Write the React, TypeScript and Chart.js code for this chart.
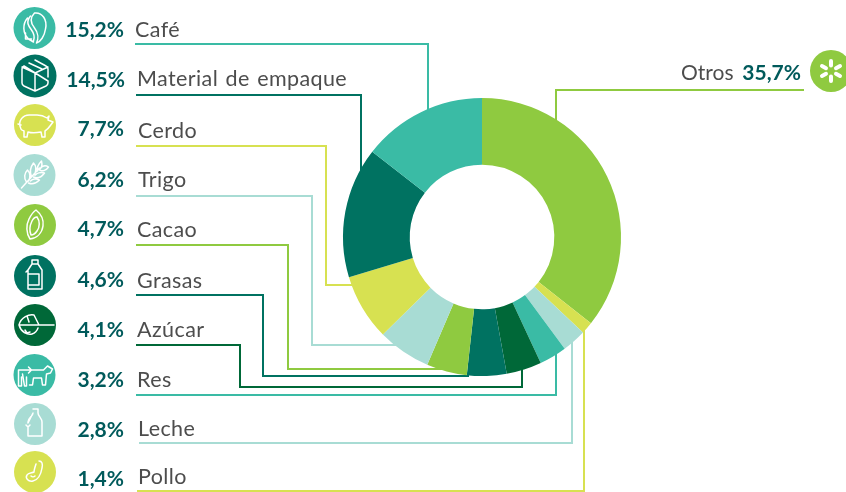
import React, { useEffect, useRef } from "react";
import { Chart, registerables } from "chart.js";

Chart.register(...registerables);

const categories = ["Otros", "Pollo", "Leche", "Res", "Azúcar", "Grasas", "Cacao", "Trigo", "Cerdo", "Material de empaque", "Café"];
const shareLabels = ["35,7%", "1,4%", "2,8%", "3,2%", "4,1%", "4,6%", "4,7%", "6,2%", "7,7%", "14,5%", "15,2%"];
// Slice sizes as drawn in the picture: the Material and Café arcs are the other way round from their printed shares.
const slices = [35.7, 1.4, 2.8, 3.2, 4.1, 4.6, 4.7, 6.2, 7.7, 15.2, 14.5];
const colors = ["#8FCA40", "#D7E151", "#A8DCD4", "#3ABBA5", "#006838", "#007261", "#8FCA40", "#A8DCD4", "#D7E151", "#007261", "#3ABBA5"];

const FONT = "Lato";
const PCT = "#005A5B";
const TXT = "#4D4D4D";

// Layout for the row of each category, index-aligned with categories.
const rows = [
  { icon: [831, 71, 21], leader: [[804, 90], [556, 90], [556, 125]] },
  { icon: [35, 472, 21], pctY: 486, pctX: 124, labX: 138, labY: 484, leader: [[137, 491], [584, 491], [584, 325]] },
  { icon: [35, 424, 21], pctY: 437, pctX: 124, labX: 138, labY: 436, leader: [[139, 443], [572, 443], [572, 340]] },
  { icon: [34.5, 375, 21], pctY: 387, pctX: 124, labX: 137, labY: 387, leader: [[136, 395], [556, 395], [556, 350]] },
  { icon: [35, 325, 21], pctY: 337, pctX: 124, labX: 137, labY: 337, leader: [[136, 345], [240, 345], [240, 387], [522, 387], [522, 365]] },
  { icon: [35, 276, 21], pctY: 287, pctX: 124, labX: 137, labY: 288, leader: [[136, 295], [263, 295], [263, 376], [469, 376]] },
  { icon: [35, 225, 21], pctY: 236, pctX: 124, labX: 137, labY: 237, leader: [[136, 245], [288, 245], [288, 369], [459, 369]] },
  { icon: [34.5, 175, 21], pctY: 187, pctX: 124, labX: 138, labY: 187, leader: [[136, 196], [312, 196], [312, 345], [400, 345]] },
  { icon: [35, 125, 21], pctY: 136, pctX: 124, labX: 138, labY: 138, leader: [[136, 146], [326, 146], [326, 285], [360, 285]] },
  { icon: [35, 76, 21.5], pctY: 87, pctX: 125, labX: 137, labY: 86, leader: [[136, 95], [361, 95], [361, 175]] },
  { icon: [34.5, 28, 21], pctY: 37, pctX: 124, labX: 135, labY: 37, leader: [[135, 44], [428, 44], [428, 115]] },
];

// White line glyphs, drawn around the centre of each icon disc.
const glyphs: string[] = [
  "M0,-10 V-5.5 M0,5.5 V10 M-9,-5 L-5,-2.8 M5,2.8 L9,5 M-9,5 L-5,2.8 M5,-2.8 L9,-5",
  "M4,-11 C7,-11 8,-8 7,-4 C6,2 3,8 -2,9 C-7,10 -10,6 -8,3 C-7,1 -3,1 -1,0 C-1,-2 0,-5 1,-8 M-4,4 C-3,5 -1,5 0,4",
  "M-2,-15 H3 V-11 C3,-8 7,-6 7,-2 V12 H-7 V3 M-7,-1 V-2 C-7,-6 -2,-8 -2,-11 Z M-7,3 L-9,1 M-7,3 L-5,1",
  "M-16,-5 H-3 M-3,-5 L-6,-8 M-3,-5 L-6,-2 M-16,-5 V11 H-13 V2 M-12,-1 L-10,11 H-8 L-8,2 M-3,-5 H9 L13,-9 L18,-6 L16,-2 L12,-1 L11,10 H8 L7,3 H-1 L-2,10 H-5",
  "M-16,0 C-14,-8 -6,-11 -1,-10 L4,0 Z M-16,0 C-14,7 -8,10 -3,9 M3,3 C2,6 0,8 -3,9 M4,0 H19 M-8,-9 L-6,-3 M-10,5 L-8,8 L-5,7",
  "M-3,-16 H3 V-12 L7,-6 V13 H-7 V-6 L-3,-12 Z M-7,-2 H4 V9 H-7 M-3,-12 H3 M-7,-6 L-9,-4",
  "M1,-15 C6,-11 9,-6 8,1 C7,8 2,13 -5,14 C-9,8 -9,0 -6,-6 C-4,-10 -2,-13 1,-15 Z M2,-8 C5,-4 5,2 2,6 C0,9 -3,10 -4,10 C-6,5 -5,0 -3,-4 C-2,-6 0,-8 2,-8",
  "M-13,13 L5,-7 M-8,7 C-11,3 -10,-2 -7,-5 C-4,-2 -4,3 -6,6 M-3,2 C-5,-3 -4,-8 -1,-12 C2,-9 2,-5 0,0 M3,-4 C2,-8 4,-11 7,-14 C8,-10 7,-7 5,-5 M-6,8 C-2,10 2,8 5,5 C2,3 -2,4 -4,6 M-1,2 C3,4 7,2 10,-2 C6,-3 2,-2 1,0 M5,-5 C8,-3 12,-5 14,-8 C11,-10 8,-9 6,-7",
  "M-14,4 C-18,-4 -12,-11 -4,-10 H2 C6,-10 9,-9 12,-7 L14,-9 L13,-5 L18,-3 L15,1 C13,4 11,5 10,6 V12 H7 L6,7 C1,8 -4,8 -7,7 L-8,12 H-11 L-11,6 C-13,5 -14,5 -14,4 Z M-4,-10 H-2 M-17,-1 L-14,0",
  "M0,-16 L11,-10 Q13,-9 13,-7 V1 M13,5 V7 Q13,9 11,10 L0,15 L-11,10 Q-13,9 -13,7 V-7 Q-13,-9 -11,-10 Z M-13,-9 L0,-3 L13,-9 M0,-3 V15 M-6,-13 L7,-7",
  "M0,-15 C8,-16 13,-8 11,1 C10,8 6,14 2,15 M0,-15 C-5,-10 -4,-5 0,0 C4,5 4,11 2,15 M-4,-12 C-9,-6 -6,-2 -3,2 C0,6 0,10 -1,13 M-7,-10 C-12,-4 -12,5 -6,11 L-1,14 M-9,5 L-9,11 L-3,11",
];

function drawLeaders(ctx: CanvasRenderingContext2D) {
  ctx.save();
  ctx.lineWidth = 2;
  ctx.lineJoin = "miter";
  rows.forEach((r, i) => {
    ctx.strokeStyle = colors[i];
    ctx.beginPath();
    r.leader.forEach(([x, y], k) => (k === 0 ? ctx.moveTo(x, y) : ctx.lineTo(x, y)));
    ctx.stroke();
  });
  ctx.restore();
}

function drawRows(ctx: CanvasRenderingContext2D) {
  ctx.save();
  ctx.textBaseline = "alphabetic";
  rows.forEach((r, i) => {
    const [cx, cy, rad] = r.icon;
    ctx.fillStyle = colors[i];
    ctx.beginPath();
    ctx.arc(cx, cy, rad, 0, Math.PI * 2);
    ctx.fill();
    ctx.save();
    ctx.translate(cx, cy);
    ctx.strokeStyle = "#FFFFFF";
    ctx.lineWidth = i === 0 ? 4 : 1.5;
    ctx.lineCap = "round";
    ctx.lineJoin = "round";
    ctx.stroke(new Path2D(glyphs[i]));
    ctx.restore();
    if (i === 0) return;
    ctx.textAlign = "right";
    ctx.font = `bold 21px ${FONT}`;
    ctx.fillStyle = PCT;
    ctx.fillText(shareLabels[i], r.pctX!, r.pctY!);
    ctx.textAlign = "left";
    ctx.font = `21.5px ${FONT}`;
    ctx.fillStyle = TXT;
    (ctx as any).letterSpacing = "0.4px";
    (ctx as any).wordSpacing = "1.5px";
    ctx.fillText(categories[i], r.labX!, r.labY!);
    (ctx as any).letterSpacing = "0px";
    (ctx as any).wordSpacing = "0px";
  });
  // Otros sits on the right, with the label before the share.
  ctx.textAlign = "left";
  ctx.font = `21px ${FONT}`;
  ctx.fillStyle = TXT;
  ctx.fillText(categories[0], 681, 80);
  ctx.textAlign = "right";
  ctx.font = `bold 21px ${FONT}`;
  ctx.fillStyle = PCT;
  ctx.fillText(shareLabels[0], 801, 80);
  ctx.restore();
}

export default function App() {
  const ref = useRef<HTMLCanvasElement>(null);
  useEffect(() => {
    document.body.style.margin = "0";
    const chart = new Chart(ref.current!, {
      type: "doughnut",
      data: {
        labels: categories,
        datasets: [{ data: slices, backgroundColor: colors, borderWidth: 0 }],
      },
      options: {
        responsive: false,
        animation: false,
        cutout: "52%",
        layout: { padding: { left: 343, right: 225, top: 98, bottom: 116 } },
        plugins: { legend: { display: false }, tooltip: { enabled: false } },
      },
      plugins: [
        {
          id: "callouts",
          beforeDatasetsDraw(c: Chart) {
            drawLeaders(c.ctx);
          },
          afterDatasetsDraw(c: Chart) {
            drawRows(c.ctx);
          },
        },
      ],
    });
    return () => chart.destroy();
  }, []);
  return <canvas ref={ref} width={846} height={492} style={{ display: "block" }} />;
}
